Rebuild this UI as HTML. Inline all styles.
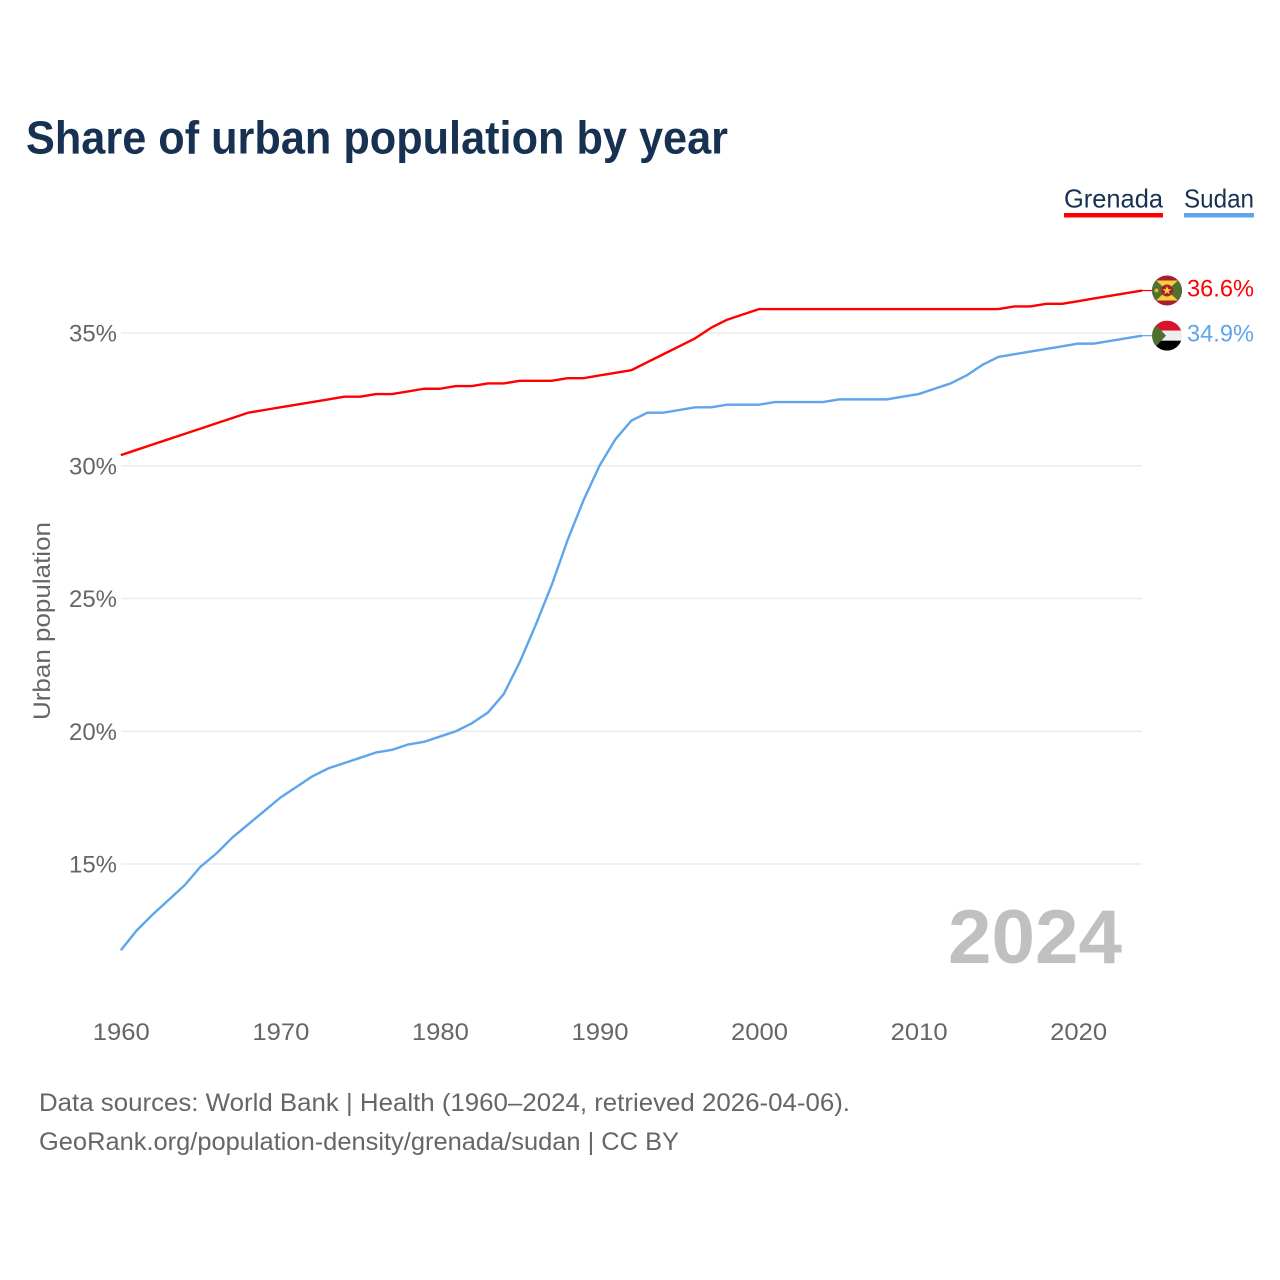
<!DOCTYPE html>
<html>
<head>
<meta charset="utf-8">
<title>Share of urban population by year</title>
<style>
html,body{margin:0;padding:0;background:#fff;}
svg{display:block;}
text{font-family:"Liberation Sans",sans-serif;}
</style>
</head>
<body>
<svg id="chart" width="1280" height="1280" viewBox="0 0 1280 1280">
  <defs>
    <clipPath id="flag-clip-a"><circle cx="0" cy="0" r="15"/></clipPath>
    <clipPath id="flag-clip-b"><circle cx="0" cy="0" r="15"/></clipPath>
  </defs>
  <text x="26" y="153.5" font-size="46" font-weight="700" fill="#173153" textLength="702" lengthAdjust="spacingAndGlyphs">Share of urban population by year</text>

  <g>
    <g>
      <text x="1064" y="207.5" font-size="26" fill="#173153" textLength="99" lengthAdjust="spacingAndGlyphs">Grenada</text>
      <rect x="1064" y="213" width="99" height="4.5" fill="#ff0000"/>
    </g>
    <g>
      <text x="1184" y="207.5" font-size="26" fill="#173153" textLength="70" lengthAdjust="spacingAndGlyphs">Sudan</text>
      <rect x="1184" y="213" width="70" height="4.5" fill="#5ea5ec"/>
    </g>
  </g>

  <g id="grid"></g>
  <g id="yticks"></g>
  <g id="xticks"></g>
  <text transform="translate(50,621) rotate(-90)" text-anchor="middle" font-size="24" fill="#666666" textLength="198" lengthAdjust="spacingAndGlyphs">Urban population</text>

  <text x="948" y="963" font-size="76" font-weight="700" fill="#c0c0c0" textLength="174" lengthAdjust="spacingAndGlyphs">2024</text>

  <g id="series"></g>

  <g id="flag-grenada">
    <g clip-path="url(#flag-clip-a)">
      <rect x="-15" y="-15" width="30" height="30" fill="#a81e2c"/>
      <rect x="-15" y="-10" width="30" height="20" fill="#4f7031"/>
      <polygon points="-11,-10 11,-10 0,0" fill="#f3cf3c"/>
      <polygon points="-11,10 11,10 0,0" fill="#f3cf3c"/>
      <circle cx="0" cy="0" r="6" fill="#a81e2c"/>
      <polygon points="0,-4.5 1.2,-1.4 4.4,-1.4 1.8,0.6 2.8,3.8 0,1.9 -2.8,3.8 -1.8,0.6 -4.4,-1.4 -1.2,-1.4" fill="#f3cf3c"/>
      <circle cx="-10.5" cy="0" r="2" fill="#e3b53a"/>
    </g>
  </g>
  <g id="flag-sudan">
    <g clip-path="url(#flag-clip-b)">
      <rect x="-15" y="-15" width="30" height="10" fill="#d9132b"/>
      <rect x="-15" y="-5" width="30" height="10" fill="#eeeeee"/>
      <rect x="-15" y="5" width="30" height="10" fill="#000000"/>
      <polygon points="-15,-15 -1,0 -15,15" fill="#4f7031"/>
    </g>
  </g>

  <g id="endlabels"></g>

  <text x="39" y="1111" font-size="25" fill="#666666" textLength="811" lengthAdjust="spacingAndGlyphs">Data sources: World Bank | Health (1960–2024, retrieved 2026-04-06).</text>
  <text x="39" y="1150" font-size="25" fill="#666666" textLength="640" lengthAdjust="spacingAndGlyphs">GeoRank.org/population-density/grenada/sudan | CC BY</text>
</svg>

<script>
var years = [1960,1961,1962,1963,1964,1965,1966,1967,1968,1969,1970,1971,1972,1973,1974,1975,1976,1977,1978,1979,1980,1981,1982,1983,1984,1985,1986,1987,1988,1989,1990,1991,1992,1993,1994,1995,1996,1997,1998,1999,2000,2001,2002,2003,2004,2005,2006,2007,2008,2009,2010,2011,2012,2013,2014,2015,2016,2017,2018,2019,2020,2021,2022,2023,2024];
var grenadaValues = [30.4,30.6,30.8,31.0,31.2,31.4,31.6,31.8,32.0,32.1,32.2,32.3,32.4,32.5,32.6,32.6,32.7,32.7,32.8,32.9,32.9,33.0,33.0,33.1,33.1,33.2,33.2,33.2,33.3,33.3,33.4,33.5,33.6,33.9,34.2,34.5,34.8,35.2,35.5,35.7,35.9,35.9,35.9,35.9,35.9,35.9,35.9,35.9,35.9,35.9,35.9,35.9,35.9,35.9,35.9,35.9,36.0,36.0,36.1,36.1,36.2,36.3,36.4,36.5,36.6];
var sudanValues = [11.75,12.5,13.1,13.65,14.2,14.9,15.4,16.0,16.5,17.0,17.5,17.9,18.3,18.6,18.8,19.0,19.2,19.3,19.5,19.6,19.8,20.0,20.3,20.7,21.4,22.6,24.0,25.5,27.2,28.7,30.0,31.0,31.7,32.0,32.0,32.1,32.2,32.2,32.3,32.3,32.3,32.4,32.4,32.4,32.4,32.5,32.5,32.5,32.5,32.6,32.7,32.9,33.1,33.4,33.8,34.1,34.2,34.3,34.4,34.5,34.6,34.6,34.7,34.8,34.9];
var yTickValues = [15,20,25,30,35];
var xTickValues = [1960,1970,1980,1990,2000,2010,2020];

var NS = 'http://www.w3.org/2000/svg';
function xScale(year){ return 120.8 + (year - 1960) * (1142 - 120.8) / 64; }
function yScale(v){ return 864 - (v - 15) * (864 - 333) / 20; }
function make(tag, attrs, parent, text){
  var el = document.createElementNS(NS, tag);
  for (var k in attrs) el.setAttribute(k, attrs[k]);
  if (text !== undefined) el.textContent = text;
  parent.appendChild(el);
  return el;
}

var gridG = document.getElementById('grid');
var yG = document.getElementById('yticks');
yTickValues.forEach(function(v){
  var line = make('line', {x1:121, x2:1142, y1:yScale(v), y2:yScale(v), stroke:'#ebebeb', 'stroke-width':1.5}, gridG);
  
  
  var label = make('text', {x:117, y:yScale(v)+8.5, 'text-anchor':'end', 'font-size':24, fill:'#666666', textLength:48, lengthAdjust:'spacingAndGlyphs'}, yG, v + '%');
  
  
});

var xG = document.getElementById('xticks');
xTickValues.forEach(function(y){
  var label = make('text', {x:xScale(y)+0.5, y:1040, 'text-anchor':'middle', 'font-size':24, fill:'#666666', textLength:57, lengthAdjust:'spacingAndGlyphs'}, xG, String(y));
  
  
});

function linePath(values){
  return values.map(function(v, i){
    return (i ? 'L' : 'M') + xScale(years[i]).toFixed(2) + ' ' + yScale(v).toFixed(2);
  }).join(' ');
}
var seriesG = document.getElementById('series');
var endG = document.getElementById('endlabels');

var sudanLine = make('path', {d:linePath(sudanValues), fill:'none', stroke:'#5ea5ec', 'stroke-width':2.4, 'stroke-linejoin':'round'}, seriesG);


var grenadaLine = make('path', {d:linePath(grenadaValues), fill:'none', stroke:'#ff0000', 'stroke-width':2.4, 'stroke-linejoin':'round'}, seriesG);



var lastG = grenadaValues[grenadaValues.length - 1];
var lastS = sudanValues[sudanValues.length - 1];
var lastX = xScale(years[years.length - 1]);

var connG = make('line', {x1:lastX, x2:1153, y1:yScale(lastG), y2:yScale(lastG), stroke:'#ff0000', 'stroke-width':1.2}, seriesG);


var connS = make('line', {x1:lastX, x2:1153, y1:yScale(lastS), y2:yScale(lastS), stroke:'#5ea5ec', 'stroke-width':1.2}, seriesG);



document.getElementById('flag-grenada').setAttribute('transform', 'translate(1167,' + yScale(lastG) + ')');
document.getElementById('flag-sudan').setAttribute('transform', 'translate(1167,' + yScale(lastS) + ')');

var labelG = make('text', {x:1187, y:yScale(lastG)+6, 'font-size':24, fill:'#ff0000', textLength:67, lengthAdjust:'spacingAndGlyphs'}, endG, lastG.toFixed(1) + '%');


var labelS = make('text', {x:1187, y:yScale(lastS)+6, 'font-size':24, fill:'#5ea5ec', textLength:67, lengthAdjust:'spacingAndGlyphs'}, endG, lastS.toFixed(1) + '%');


</script>
</body>
</html>
